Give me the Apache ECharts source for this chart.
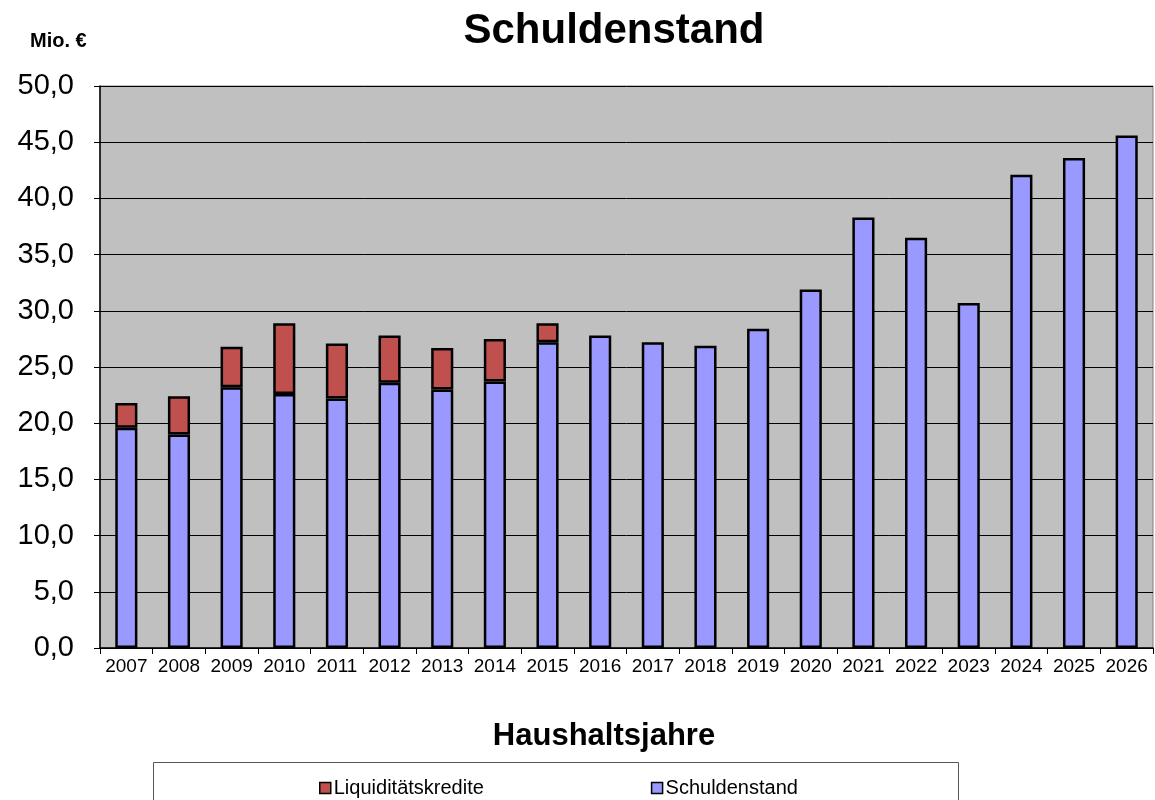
<!DOCTYPE html>
<html>
<head>
<meta charset="utf-8">
<script src="https://cdn.jsdelivr.net/npm/echarts@6/dist/echarts.min.js"></script>
<style>
  html, body { margin: 0; padding: 0; background: #fff; }
  #chart { width: 1155px; height: 800px; }
</style>
</head>
<body>
<div id="chart"></div>
<script>
// Haushaltsjahre
const years = ['2007', '2008', '2009', '2010', '2011', '2012', '2013', '2014', '2015', '2016',
  '2017', '2018', '2019', '2020', '2021', '2022', '2023', '2024', '2025', '2026']
// Schuldenstand (Mio. €)
const schulden = [19.6, 19.0, 23.2, 22.6, 22.2, 23.6, 23.0, 23.7, 27.2, 27.8,
  27.2, 26.9, 28.4, 31.9, 38.3, 36.5, 30.7, 42.1, 43.6, 45.6]
// Liquiditätskredite (Mio. €), gestapelt
const liquiditaet = [2.2, 3.4, 3.6, 6.3, 4.9, 4.2, 3.7, 3.8, 1.7, 0,
  0, 0, 0, 0, 0, 0, 0, 0, 0, 0]

const chart = echarts.init(document.getElementById('chart'))
const font = 'Liberation Sans, Arial, sans-serif'

chart.setOption({
  animation: false,
  textStyle: { fontFamily: font },
  graphic: [
    { type: 'text', x: 614, y: 31,
      style: { text: 'Schuldenstand', textAlign: 'center', textVerticalAlign: 'middle',
        fontSize: 42, fontWeight: 'bold', fontFamily: font, fill: '#000' } },
    { type: 'text', x: 30, y: 41,
      style: { text: 'Mio. €', textAlign: 'left', textVerticalAlign: 'middle',
        fontSize: 20, fontWeight: 'bold', fontFamily: font, fill: '#000' } },
    { type: 'text', x: 604, y: 736,
      style: { text: 'Haushaltsjahre', textAlign: 'center', textVerticalAlign: 'middle',
        fontSize: 31, fontWeight: 'bold', fontFamily: font, fill: '#000' } },
    { type: 'rect', shape: { x: 153.5, y: 762.5, width: 805, height: 60 },
      style: { fill: '#fff', stroke: '#555', lineWidth: 1 }, z: -1 }
  ],
  legend: {
    left: 314, top: 773,
    itemWidth: 11, itemHeight: 11, itemGap: 167,
    icon: 'rect',
    textStyle: { fontSize: 20, color: '#000', padding: [0, 0, 0, -2] },
    itemStyle: { borderColor: '#000', borderWidth: 1.5 },
    data: ['Liquiditätskredite', 'Schuldenstand']
  },
  grid: {
    left: 100, right: 2, top: 86, bottom: 152,
    show: true, backgroundColor: '#c0c0c0', borderColor: '#808080', borderWidth: 1
  },
  xAxis: {
    type: 'category',
    data: years,
    axisLine: { lineStyle: { color: '#000', width: 1.5 } },
    axisTick: { show: true, interval: 0, length: 6, lineStyle: { color: '#000' } },
    axisLabel: { interval: 0, fontSize: 19, color: '#000', margin: 9, hideOverlap: false }
  },
  yAxis: {
    type: 'value',
    min: 0, max: 50, interval: 5,
    axisLine: { show: true, lineStyle: { color: '#000', width: 1.5 } },
    axisTick: { show: true, length: 6, lineStyle: { color: '#000' } },
    axisLabel: { fontSize: 29, color: '#000', margin: 26,
      formatter: v => v.toFixed(1).replace('.', ',') },
    splitLine: { lineStyle: { color: '#000', width: 1 } }
  },
  series: [
    {
      name: 'Schuldenstand', type: 'bar', stack: 'total', barWidth: '42%',
      data: schulden,
      itemStyle: { color: '#9999ff', borderColor: '#000', borderWidth: 2.5 }
    },
    {
      name: 'Liquiditätskredite', type: 'bar', stack: 'total', barWidth: '42%',
      data: liquiditaet.map(v => (v > 0 ? v : null)),
      itemStyle: { color: '#c0504d', borderColor: '#000', borderWidth: 2.5 }
    }
  ]
})
</script>
</body>
</html>
